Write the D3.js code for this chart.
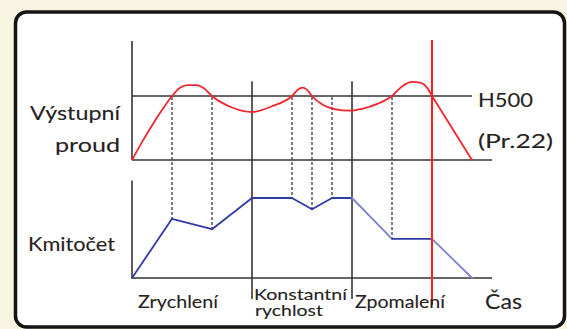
<!DOCTYPE html>
<html>
<head>
<meta charset="utf-8">
<script src="https://cdn.jsdelivr.net/npm/d3@7"></script>
<style>
  html, body { margin: 0; padding: 0; background: #f7f5e2; }
  svg { display: block; }
  text { font-family: Lato, "Open Sans", sans-serif; fill: #262222; stroke: #262222; stroke-width: 0.1px; }
</style>
</head>
<body>
<svg id="chart" width="567" height="329"></svg>
<script>
// Time axis (arbitrary units) and event instants
const timeEnd = 18;
const phaseBounds = [6, 11];          // acceleration | constant speed | deceleration
const tripTime = 15;                  // current limit trip (red marker)
const guideTimes = [2, 4, 8, 9, 10, 13];

// Output current, % of the H500 limit level
const currentT = [0, 0.5, 1, 1.5, 2, 2.4, 2.8, 3.2, 3.6, 4, 5, 6, 7, 8, 8.3, 8.5, 8.75, 9, 9.5, 10.2, 10.8, 11.5, 12.3, 13, 13.5, 14, 14.4, 14.8, 15];
const currentV = [0, 28, 54, 78, 100, 113, 117, 117, 112, 100, 82, 75, 84, 100, 110, 113, 110, 100, 87, 79, 77, 80, 88, 100, 115, 122, 121, 111, 100];
const currentEndT = [15, 17];
const currentEndV = [100, 0];
const limitLevel = 100;

// Output frequency, % of the constant-speed value
const freqT = [0, 2, 4, 6, 8, 9, 10, 11, 13, 15, 17];
const freqV = [0, 74, 61, 100, 100, 86, 100, 100, 49, 49, 0];

// Labels
const currentLabel = ["Výstupní", "proud"];
const freqLabel = "Kmitočet";
const limitLabels = ["H500", "(Pr.22)"];
const phaseLabels = ["Zrychlení", ["Konstantní", "rychlost"], "Zpomalení"];
const timeLabel = "Čas";

const svg = d3.select("#chart");

// Card frame
svg.append("rect")
  .attr("x", 15.5).attr("y", 12).attr("width", 549).attr("height", 315)
  .attr("rx", 11).attr("ry", 11)
  .attr("fill", "#ffffff").attr("stroke", "#141414").attr("stroke-width", 3.5);

const x = d3.scaleLinear().domain([0, timeEnd]).range([132, 492]);
const yCur = d3.scaleLinear().domain([0, limitLevel]).range([160, 96]);
const yFreq = d3.scaleLinear().domain([0, 100]).range([278, 198]);

const axisColor = "#3a3333";

// Panel axes
const axes = svg.append("g").attr("stroke", axisColor).attr("stroke-width", 1.6).attr("fill", "none");
axes.append("line").attr("x1", x(0)).attr("x2", x(0)).attr("y1", yCur(186)).attr("y2", yCur(0));
axes.append("line").attr("x1", x(0)).attr("x2", x(timeEnd)).attr("y1", yCur(0)).attr("y2", yCur(0));
axes.append("line").attr("x1", x(0)).attr("x2", x(0)).attr("y1", yFreq(122)).attr("y2", yFreq(0));
axes.append("line").attr("x1", x(0)).attr("x2", x(timeEnd)).attr("y1", yFreq(0)).attr("y2", yFreq(0));
// Limit level line
axes.append("line").attr("x1", x(0)).attr("x2", x(17)).attr("y1", yCur(limitLevel)).attr("y2", yCur(limitLevel));
// Phase boundaries
axes.selectAll("line.phase").data(phaseBounds).join("line").attr("class", "phase")
  .attr("x1", d => x(d)).attr("x2", d => x(d))
  .attr("y1", yCur(123)).attr("y2", 299);

// Dotted guides from the limit line down to the frequency curve
const freqAt = t => freqV[freqT.indexOf(t)];
svg.append("g").selectAll("line").data(guideTimes).join("line")
  .attr("x1", d => x(d)).attr("x2", d => x(d))
  .attr("y1", yCur(limitLevel) + 1).attr("y2", d => yFreq(freqAt(d)))
  .attr("stroke", "#4a4646").attr("stroke-width", 1.4)
  .attr("stroke-dasharray", "3,2");

// Current curve
const curPts = currentT.map((t, i) => [x(t), yCur(currentV[i])]);
svg.append("path")
  .attr("d", d3.line().curve(d3.curveMonotoneX)(curPts))
  .attr("fill", "none").attr("stroke", "#f2262e").attr("stroke-width", 1.8);
svg.append("path")
  .attr("d", d3.line()(currentEndT.map((t, i) => [x(t), yCur(currentEndV[i])])))
  .attr("fill", "none").attr("stroke", "#f2262e").attr("stroke-width", 1.8);

// Frequency curve, drawn segment by segment (ramps in the deceleration phase are lighter)
const segs = d3.pairs(freqT.map((t, i) => ({ t, v: freqV[i] })));
svg.append("g").selectAll("line").data(segs).join("line")
  .attr("x1", d => x(d[0].t)).attr("y1", d => yFreq(d[0].v))
  .attr("x2", d => x(d[1].t)).attr("y2", d => yFreq(d[1].v))
  .attr("stroke", d => (d[0].t >= phaseBounds[1] && d[0].v !== d[1].v) ? "#7c83cc" : "#323aa6")
  .attr("stroke-width", 1.8).attr("stroke-linecap", "round");

// Trip marker
svg.append("line")
  .attr("x1", x(tripTime)).attr("x2", x(tripTime))
  .attr("y1", 40).attr("y2", 305)
  .attr("stroke", "#ff1f1f").attr("stroke-width", 2);

// Text
function label(str, xPos, yPos, size, width) {
  const t = svg.append("text").attr("x", xPos).attr("y", yPos)
    .attr("font-size", size).text(str);
  if (width) t.attr("textLength", width).attr("lengthAdjust", "spacingAndGlyphs");
  return t;
}
label(currentLabel[0], 30, 120, 18.5, 90);
label(currentLabel[1], 55, 152, 18.5, 65);
label(freqLabel, 28, 251, 18.5, 87);
label(limitLabels[0], 478, 107, 20, 55);
label(limitLabels[1], 478, 148, 20, 75);
label(phaseLabels[0], 138, 308, 17.5, 80);
label(phaseLabels[1][0], 254, 299.5, 16, 93);
label(phaseLabels[1][1], 255, 316, 16, 68);
label(phaseLabels[2], 355, 308, 17.5, 90);
label(timeLabel, 485, 309, 21, 37);
</script>
</body>
</html>
